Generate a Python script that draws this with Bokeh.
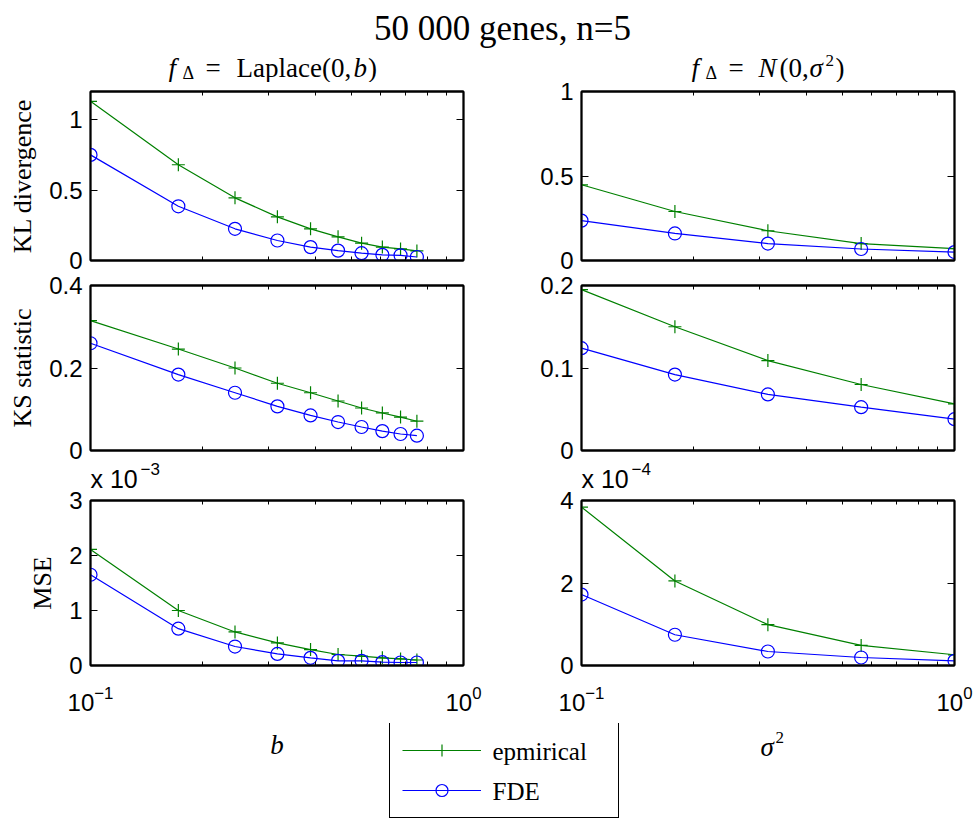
from bokeh.plotting import figure
from bokeh.models import Range1d, FixedTicker, LogAxis, LinearAxis, Label, Legend, LegendItem
from bokeh.layouts import column, row
from bokeh.embed import file_html
from bokeh.resources import INLINE

# ---------------- data ----------------
x_b = [0.1, 0.172, 0.244, 0.317, 0.389, 0.461, 0.533, 0.606, 0.678, 0.75]
x_s = [0.1, 0.178, 0.316, 0.562, 1.0]

kl_b_emp = [1.13, 0.68, 0.445, 0.31, 0.225, 0.168, 0.123, 0.095, 0.082, 0.068]
kl_b_fde = [0.75, 0.385, 0.225, 0.142, 0.095, 0.07, 0.052, 0.04, 0.037, 0.025]
ks_b_emp = [0.315, 0.246, 0.200, 0.163, 0.140, 0.120, 0.103, 0.091, 0.081, 0.071]
ks_b_fde = [0.260, 0.184, 0.140, 0.107, 0.085, 0.069, 0.057, 0.047, 0.040, 0.036]
mse_b_emp = [2.11e-3, 1.0e-3, 0.61e-3, 0.41e-3, 0.29e-3, 0.2e-3, 0.17e-3, 0.14e-3, 0.12e-3, 0.1e-3]
mse_b_fde = [1.65e-3, 0.67e-3, 0.345e-3, 0.21e-3, 0.14e-3, 0.085e-3, 0.085e-3, 0.06e-3, 0.055e-3, 0.055e-3]

kl_s_emp = [0.448, 0.29, 0.176, 0.1, 0.07]
kl_s_fde = [0.236, 0.16, 0.1, 0.068, 0.05]
ks_s_emp = [0.195, 0.150, 0.109, 0.080, 0.0566]
ks_s_fde = [0.124, 0.092, 0.068, 0.0525, 0.038]
mse_s_emp = [3.84e-4, 2.05e-4, 0.99e-4, 0.486e-4, 0.26e-4]
mse_s_fde = [1.72e-4, 0.745e-4, 0.34e-4, 0.194e-4, 0.113e-4]

x_ticks = [0.1, 1.0]
x_minor = [0.2, 0.3, 0.4, 0.5, 0.6, 0.7, 0.8, 0.9]

kl_b_ticks, kl_b_labels = [0, 0.5, 1], ["0", "0.5", "1"]
ks_b_ticks, ks_b_labels = [0, 0.2, 0.4], ["0", "0.2", "0.4"]
mse_b_ticks, mse_b_labels = [0, 1e-3, 2e-3, 3e-3], ["0", "1", "2", "3"]
kl_s_ticks, kl_s_labels = [0, 0.5, 1], ["0", "0.5", "1"]
ks_s_ticks, ks_s_labels = [0, 0.1, 0.2], ["0", "0.1", "0.2"]
mse_s_ticks, mse_s_labels = [0, 2e-4, 4e-4], ["0", "2", "4"]
mse_b_exp, mse_s_exp = "\u22123", "\u22124"

row_labels = ["KL divergence", "KS statistic", "MSE"]
legend_labels = ["epmirical", "FDE"]
title_text = "50 000 genes, n=5"

GREEN = "#008000"
BLUE = "#0000ff"
SERIF = "Liberation Serif"
SANS = "Liberation Sans"

LEFT_W, RIGHT_W = 520, 456
FRAME_W = 373


def style_axis(ax, show_labels, standoff=8):
    ax.axis_line_color = "black"
    ax.axis_line_width = 1.8
    ax.major_tick_line_color = "black"
    ax.major_tick_in = 7
    ax.major_tick_out = 0
    ax.minor_tick_line_color = "black"
    ax.minor_tick_in = 4
    ax.minor_tick_out = 0
    ax.major_label_text_font = SANS
    ax.major_label_text_color = "black"
    if show_labels:
        ax.major_label_text_font_size = "24px"
        ax.major_label_standoff = standoff
    else:
        ax.major_label_text_font_size = "1px"
        ax.major_label_text_alpha = 0
        ax.major_label_standoff = 0


def panel(x, emp, fde, yr, yticks, ylabels, ylab, left, tb, fh, bb, show_x):
    width = LEFT_W if left else RIGHT_W
    bl = 90 if left else 61
    br = LEFT_W - 90 - FRAME_W if left else RIGHT_W - 61 - FRAME_W
    p = figure(width=width, height=tb + fh + bb, x_axis_type="log",
               x_range=Range1d(0.1, 1.0), y_range=Range1d(*yr),
               output_backend="svg", toolbar_location=None,
               min_border_left=bl, min_border_right=br,
               min_border_top=tb, min_border_bottom=bb)
    p.grid.visible = False
    p.outline_line_color = "black"
    p.outline_line_width = 1.8
    p.background_fill_color = "white"
    p.border_fill_color = "white"

    p.xaxis.ticker = FixedTicker(ticks=x_ticks, minor_ticks=x_minor)
    for ax in p.xaxis:
        style_axis(ax, show_x, 20)
    p.yaxis.ticker = FixedTicker(ticks=yticks, minor_ticks=[])
    ov = {t: l for t, l in zip(yticks, ylabels)}
    for ax in p.yaxis:
        style_axis(ax, True, 8)
        ax.major_label_overrides = ov
        if ylab:
            ax.axis_label = ylab
            ax.axis_label_text_font = SERIF
            ax.axis_label_text_font_size = "26px"
            ax.axis_label_text_font_style = "normal"
            ax.axis_label_text_color = "black"
            ax.axis_label_standoff = 9

    top = LogAxis(ticker=FixedTicker(ticks=x_ticks, minor_ticks=x_minor))
    style_axis(top, False)
    p.add_layout(top, "above")
    right = LinearAxis(ticker=FixedTicker(ticks=yticks, minor_ticks=[]))
    style_axis(right, False)
    p.add_layout(right, "right")

    p.line(x, emp, line_color=GREEN, line_width=1.2)
    p.scatter(x, emp, marker="cross", size=13, line_color=GREEN, line_width=1.2)
    p.line(x, fde, line_color=BLUE, line_width=1.2)
    p.scatter(x, fde, marker="circle", size=13, line_color=BLUE, fill_color=None, line_width=1.2)
    return p


# page rows: header 82 | row1 190 | row2 188 | strip 31 | row3 232 | bottom 98  = 821
l1 = panel(x_b, kl_b_emp, kl_b_fde, (0, 1.2), kl_b_ticks, kl_b_labels, row_labels[0], True, 9, 169, 12, False)
r1 = panel(x_s, kl_s_emp, kl_s_fde, (0, 1.0), kl_s_ticks, kl_s_labels, None, False, 9, 169, 12, False)
l2 = panel(x_b, ks_b_emp, ks_b_fde, (0, 0.4), ks_b_ticks, ks_b_labels, row_labels[1], True, 13, 165, 10, False)
r2 = panel(x_s, ks_s_emp, ks_s_fde, (0, 0.2), ks_s_ticks, ks_s_labels, None, False, 13, 165, 10, False)
l3 = panel(x_b, mse_b_emp, mse_b_fde, (0, 3e-3), mse_b_ticks, mse_b_labels, row_labels[2], True, 9, 165, 58, True)
r3 = panel(x_s, mse_s_emp, mse_s_fde, (0, 4e-4), mse_s_ticks, mse_s_labels, None, False, 9, 165, 58, True)


def blank(h):
    p = figure(width=976, height=h, x_range=Range1d(0, 976), y_range=Range1d(h, 0),
               output_backend="svg", toolbar_location=None, min_border=0,
               x_axis_location=None, y_axis_location=None, outline_line_color=None)
    p.grid.visible = False
    return p


def lab(p, x, y, text, size, style="normal", align="left", font=SERIF):
    p.add_layout(Label(x=x, y=y, text=text, text_font=font, text_font_size=f"{size}px",
                       text_font_style=style, text_align=align, text_baseline="middle",
                       text_color="black"))


header = blank(82)
lab(header, 502, 28, title_text, 35, align="center")
# left subtitle: f_Δ = Laplace(0,b)
SY = 67.5
lab(header, 168, SY, "f", 27, "italic")
lab(header, 182, SY + 5, "\u0394", 18)
lab(header, 205, SY, "=", 27)
lab(header, 236, SY, "Laplace(0,", 27)
lab(header, 353, SY, "b", 27, "italic")
lab(header, 367.5, SY, ")", 27)
# right subtitle: f_Δ = N(0,σ²)
x0 = 691
lab(header, x0, SY, "f", 27, "italic")
lab(header, x0 + 14, SY + 5, "\u0394", 18)
lab(header, x0 + 37, SY, "=", 27)
lab(header, x0 + 67, SY, "N", 27, "italic")
lab(header, x0 + 88, SY, "(0,", 27)
lab(header, x0 + 118, SY, "\u03c3", 27, "italic")
lab(header, x0 + 134, SY - 8, "2", 17)
lab(header, x0 + 144, SY, ")", 27)

# strip between rows 2 and 3 holding the "x 10^k" multipliers
strip = blank(31)
lab(strip, 90, 18, "x 10", 25, font=SANS)
lab(strip, 140, 8, mse_b_exp, 17, font=SANS)
lab(strip, 581, 18, "x 10", 25, font=SANS)
lab(strip, 631, 8, mse_s_exp, 17, font=SANS)

bottom = blank(98)
lab(bottom, 276.5, 21, "b", 27, "italic", align="center")
lab(bottom, 760, 23, "\u03c3", 27, "italic")
lab(bottom, 775, 14, "2", 17)

re_l = bottom.line(x=x_s, y=kl_s_emp, line_color=GREEN, line_width=1.2, visible=False)
re_m = bottom.scatter(x=x_s, y=kl_s_emp, marker="cross", size=13, line_color=GREEN, line_width=1.2, visible=False)
rf_l = bottom.line(x=x_s, y=kl_s_fde, line_color=BLUE, line_width=1.2, visible=False)
rf_m = bottom.scatter(x=x_s, y=kl_s_fde, marker="circle", size=13, line_color=BLUE, fill_color=None,
                      line_width=1.2, visible=False)
legend = Legend(items=[LegendItem(label=" ", renderers=[re_l, re_m]),
                       LegendItem(label="  ", renderers=[rf_l, rf_m])],
                location=(389, 3), border_line_color="black", border_line_width=1, border_line_alpha=1.0,
                background_fill_color="white", background_fill_alpha=0.0,
                inactive_fill_alpha=0.0,
                label_text_font_size="25px", label_text_color="black",
                glyph_width=79, glyph_height=30, label_height=30, label_width=116,
                label_standoff=9, padding=12, spacing=10, margin=0)
bottom.add_layout(legend)
# legend texts (serif) drawn in the legend rows
lab(bottom, 492, 28, legend_labels[0], 25)
lab(bottom, 492, 68, legend_labels[1], 25)

layout = column(header, row(l1, r1), row(l2, r2), strip, row(l3, r3), bottom)
open("out.html", "w").write(file_html(layout, INLINE))
